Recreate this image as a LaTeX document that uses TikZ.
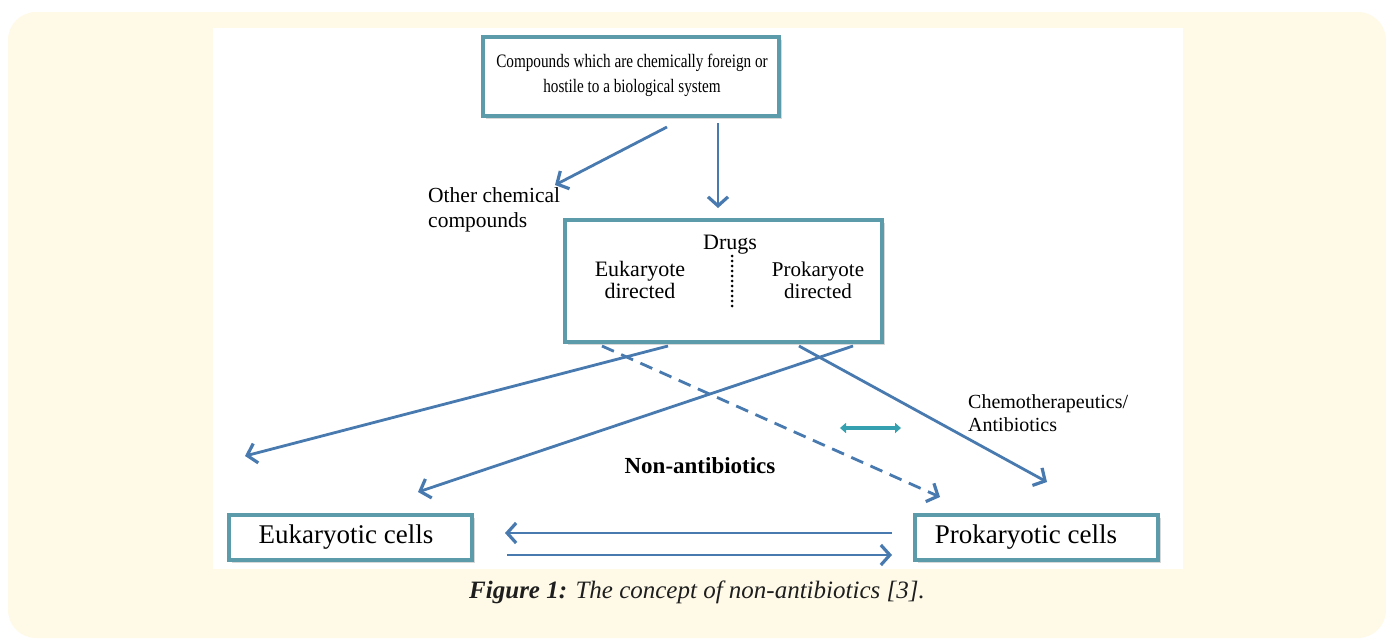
\documentclass[tikz,border=0pt]{standalone}
\usepackage{fontspec}
\setmainfont{Liberation Serif}
\newfontfamily\narrowserif{Liberation Serif}[FakeStretch=0.8]
\usetikzlibrary{arrows.meta,shadows}
\definecolor{cream}{RGB}{255,250,232}
\definecolor{boxc}{RGB}{92,155,170}
\definecolor{arrc}{RGB}{72,122,176}
\definecolor{tealc}{RGB}{52,160,176}
\definecolor{capc}{RGB}{30,30,30}
\tikzset{
  cellbox/.style={draw=boxc, line width=4pt, fill=white, rectangle, inner sep=0pt,
    drop shadow={opacity=0.3, shadow xshift=2.5pt, shadow yshift=-2.5pt, fill=gray}},
  conn/.style={draw=arrc, line width=2.8pt, -{Straight Barb[length=9pt,width=20pt,line width=3.2pt]}},
  dconn/.style={conn, dash pattern=on 13pt off 8pt},
  lbl/.style={inner sep=0pt, text=black},
}
\begin{document}
\begin{tikzpicture}[x=1pt,y=-1pt]
\useasboundingbox (0,0) rectangle (1386,638);
\fill[white] (0,0) rectangle (1386,638);
\fill[cream, rounded corners=28pt] (8,12) rectangle (1386,638);
\fill[white] (213,28) rectangle (1183,569);

% boxes
\node[cellbox, minimum width=296pt, minimum height=79pt] (top) at (631,76.5) {};
\node[lbl, align=center, font=\narrowserif\fontsize{19}{25}\selectfont] (toptxt) at (632,75)
  {Compounds which are chemically foreign or\\hostile to a biological system};

\node[cellbox, minimum width=317pt, minimum height=122pt] (drugs) at (723.5,281) {};
\node[lbl, font=\fontsize{22}{22}\selectfont] (drugstxt) at (730,245) {Drugs};
\node[lbl, align=center, font=\fontsize{22}{22}\selectfont] (euk) at (640,280) {Eukaryote\\directed};
\node[lbl, align=center, font=\fontsize{21}{22}\selectfont] (prok) at (818,280) {Prokaryote\\directed};
\coordinate (dt) at (732,256);
\coordinate (db) at (732,307);
\draw[line width=3pt, line cap=round, dash pattern=on 0pt off 5pt] (dt) -- (db);

\node[cellbox, minimum width=243pt, minimum height=45pt] (ecells) at (350.5,537.5) {};
\node[lbl, font=\fontsize{27}{27}\selectfont] (ecellstxt) at (346,537) {Eukaryotic cells};
\node[cellbox, minimum width=243pt, minimum height=45pt] (pcells) at (1036.5,537.5) {};
\node[lbl, font=\fontsize{27}{27}\selectfont] (pcellstxt) at (1026,537) {Prokaryotic cells};

% labels
\node[lbl, align=left, anchor=west, font=\fontsize{21.5}{25}\selectfont] (other) at (428,209.5)
  {Other chemical\\compounds};
\node[lbl, align=left, anchor=west, font=\fontsize{20}{23}\selectfont] (chemo) at (968,413.5)
  {Chemotherapeutics/\\Antibiotics};
\node[lbl, font=\bfseries\fontsize{23}{23}\selectfont] (nonab) at (700,466) {Non-antibiotics};

% connector end points
\coordinate (t1) at (667,127);
\coordinate (o1) at (555,185);
\coordinate (t2) at (718,123);
\coordinate (d2) at (718,208);
\coordinate (a1) at (668,346);
\coordinate (a2) at (245,456);
\coordinate (b1) at (853,346);
\coordinate (b2) at (418,492);
\coordinate (c1) at (602,346);
\coordinate (c2) at (940,497);
\coordinate (e1) at (799,346);
\coordinate (e2) at (1047,482);
\coordinate (h1) at (892,533);
\coordinate (h2) at (505,533);
\coordinate (h3) at (507,555);
\coordinate (h4) at (892,555);

\draw[conn] (t1) -- (o1);
\draw[conn] (t2) -- (d2);
\draw[conn] (a1) -- (a2);
\draw[conn] (b1) -- (b2);
\draw[dconn] (c1) -- (c2);
\draw[conn] (e1) -- (e2);
\draw[conn] (h1) -- (h2);
\draw[conn] (h3) -- (h4);

% small double arrow
\coordinate (s1) at (840,428);
\coordinate (s2) at (901,428);
\draw[line width=4.5pt, tealc, {Triangle[length=6pt,width=10pt]}-{Triangle[length=6pt,width=10pt]}] (s1) -- (s2);

% caption
\node[lbl, text=capc, font=\itshape\fontsize{25}{25}\selectfont] (cap) at (697,592)
  {\textbf{Figure 1:} The concept of non-antibiotics [3].};
\end{tikzpicture}
\end{document}
